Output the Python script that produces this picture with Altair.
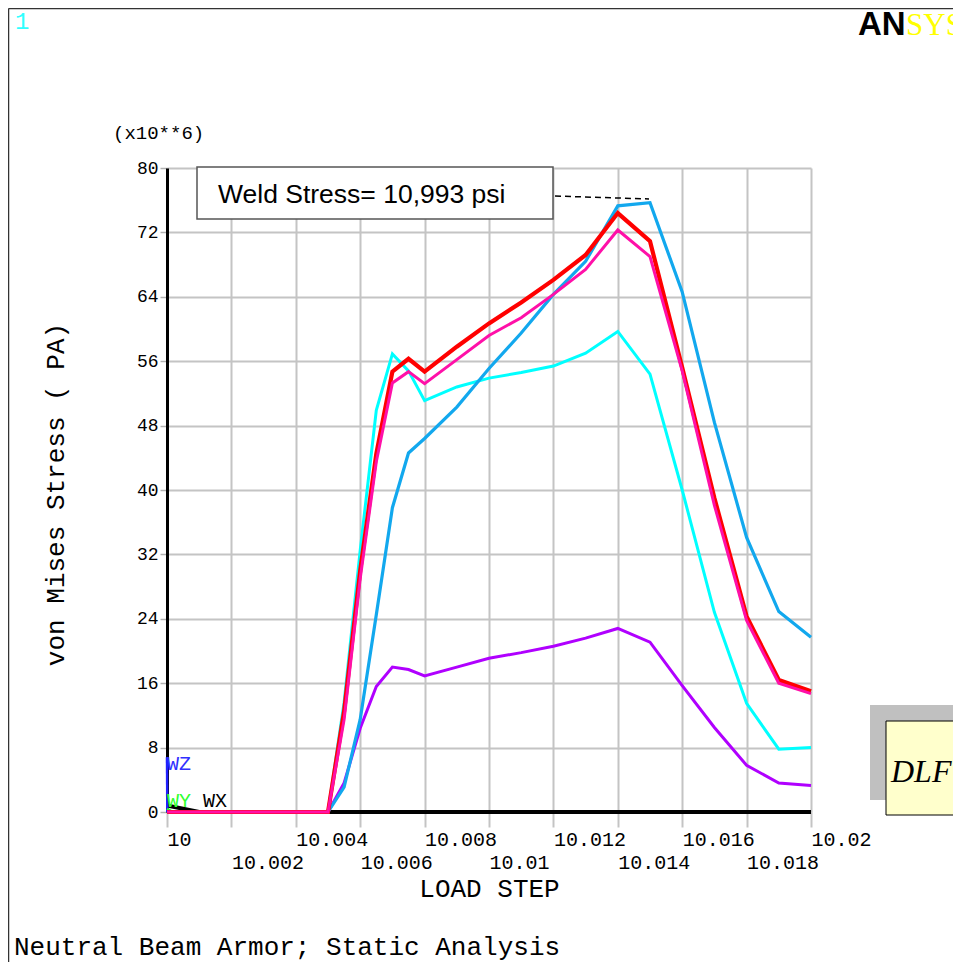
import altair as alt
import pandas as pd

# ---------------- data ----------------
load_step = [10.0, 10.001, 10.002, 10.003, 10.004, 10.005, 10.0055, 10.006, 10.0065,
             10.007, 10.0075, 10.008, 10.009, 10.010, 10.011, 10.012, 10.013, 10.014,
             10.015, 10.016, 10.017, 10.018, 10.019, 10.020]

red_vals = [0, 0, 0, 0, 0, 0, 12.5, 30.0, 44.5, 54.7, 56.3, 54.7, 57.8, 60.7, 63.3,
            66.1, 69.2, 74.4, 70.9, 55.2, 39.0, 24.3, 16.4, 15.0]
magenta_vals = [0, 0, 0, 0, 0, 0, 11.5, 29.0, 43.5, 53.3, 54.7, 53.2, 56.2, 59.2, 61.4,
                64.3, 67.4, 72.3, 69.0, 54.8, 38.1, 23.8, 16.0, 14.7]
skyblue_vals = [0, 0, 0, 0, 0, 0, 3.1, 11.5, 24.5, 37.8, 44.6, 46.4, 50.3, 55.1, 59.5,
                64.3, 68.4, 75.3, 75.7, 64.6, 48.4, 34.1, 24.9, 21.7]
cyan_vals = [0, 0, 0, 0, 0, 0, 13.6, 32.5, 49.9, 56.9, 54.8, 51.1, 52.8, 53.9, 54.6,
             55.4, 57.0, 59.7, 54.4, 40.0, 24.8, 13.5, 7.8, 8.0]
purple_vals = [0, 0, 0, 0, 0, 0, 3.6, 10.4, 15.6, 18.0, 17.7, 16.9, 18.0, 19.1, 19.8,
               20.6, 21.6, 22.8, 21.1, 15.7, 10.5, 5.8, 3.6, 3.3]
wx_vals = [0.8, 0, 0, 0, 0, 0, 0, 0, 0, 0, 0, 0, 0, 0, 0, 0, 0, 0, 0, 0, 0, 0, 0, 0]

wz_step = [10.0, 10.00001]
wz_vals = [6.8, 0.0]
wy_step = [10.0, 10.0002]
wy_vals = [0.4, 0.0]

x_ticks = [10.0, 10.002, 10.004, 10.006, 10.008, 10.010, 10.012, 10.014, 10.016, 10.018, 10.020]
y_ticks = [0, 8, 16, 24, 32, 40, 48, 56, 64, 72, 80]

series_names = ["WX", "WZ", "WY", "S5", "S4", "S3", "S1", "S2"]
series_colors = ["#000000", "#2020FF", "#30FF30", "#B000FF", "#00FFFF", "#12A8EE", "#FF0000", "#FF10A8"]
series_widths = [4, 2.5, 2.5, 3, 3, 3.2, 4.2, 3]

rows = []
for name, xs, ys in [("WX", load_step, wx_vals), ("WZ", wz_step, wz_vals), ("WY", wy_step, wy_vals),
                     ("S5", load_step, purple_vals), ("S4", load_step, cyan_vals),
                     ("S3", load_step, skyblue_vals), ("S1", load_step, red_vals),
                     ("S2", load_step, magenta_vals)]:
    for i, (a, b) in enumerate(zip(xs, ys)):
        rows.append({"series": name, "step": a, "stress": b, "i": i})
df = pd.DataFrame(rows)

MONO = "Liberation Mono"

x_enc = alt.X(
    "step:Q",
    scale=alt.Scale(domain=[10.0, 10.02], nice=False, zero=False),
    axis=alt.Axis(
        values=x_ticks, grid=True, gridColor="#C4C4C4", gridWidth=2,
        domain=False, ticks=True, tickColor="#C4C4C4", tickWidth=2, tickSize=15,
        labelExpr="round((datum.value - 10) * 1000) % 4 == 2 ? ['', format(datum.value, '.3~f')] : format(datum.value, '.3~f')",
        labelAlign="left", labelBaseline="top", labelPadding=2, labelLineHeight=23,
        labelFont=MONO, labelFontSize=20, labelColor="#000000",
        labelOverlap=False, labelFlush=False, labelBound=False,
        title="LOAD STEP", titleFont=MONO, titleFontSize=26, titleFontWeight="normal",
        titleColor="#000000", titleX=322, titleY=84, titleBaseline="alphabetic",
        titleAlign="center", titleAnchor="middle",
    ),
)
y_enc = alt.Y(
    "stress:Q",
    scale=alt.Scale(domain=[0, 80], nice=False),
    axis=alt.Axis(
        values=y_ticks, grid=True, gridColor="#C4C4C4", gridWidth=2,
        domain=True, domainColor="#000000", domainWidth=3,
        ticks=True, tickColor="#B0B0B0", tickWidth=1.5, tickSize=7,
        labelAlign="right", labelBaseline="middle", labelPadding=2,
        labelFont=MONO, labelFontSize=18, labelColor="#000000",
        labelOverlap=False, labelFlush=False, labelBound=False,
        title="von Mises Stress ( PA)", titleFont=MONO, titleFontSize=26,
        titleFontWeight="normal", titleColor="#000000", titleAngle=270,
        titleX=-104, titleY=326, titleBaseline="alphabetic", titleAlign="center",
    ),
)

layers = []
for name, col, w in zip(series_names, series_colors, series_widths):
    layers.append(
        alt.Chart(df)
        .transform_filter(alt.datum.series == name)
        .mark_line(color=col, strokeWidth=w, strokeJoin="miter", strokeCap="butt")
        .encode(x=x_enc, y=y_enc, order="i:Q")
    )

one = pd.DataFrame({"k": [0]})


def rect(x1, x2, y1, y2, **kw):
    return alt.Chart(one).mark_rect(**kw).encode(
        x=alt.value(x1), x2=alt.value(x2), y=alt.value(y1), y2=alt.value(y2))


def rule(x1, x2, y1, y2, **kw):
    return alt.Chart(one).mark_rule(**kw).encode(
        x=alt.value(x1), x2=alt.value(x2), y=alt.value(y1), y2=alt.value(y2))


def txt(s, x, y, **kw):
    return alt.Chart(pd.DataFrame({"t": [s]})).mark_text(align="left", baseline="alphabetic", **kw).encode(
        x=alt.value(x), y=alt.value(y), text="t:N")


annotations = [
    # page frame
    rule(-158.5, -158.5, -159.5, 802, color="#333333", strokeWidth=1.5),
    rule(-158.5, 794, -159.5, -159.5, color="#333333", strokeWidth=1.5),
    # weld stress call-out
    rule(388, 482, 28, 31, color="#000000", strokeWidth=1.5, strokeDash=[6, 4]),
    rect(30, 386, -1, 51, fill="#FFFFFF", stroke="#555555", strokeWidth=1.5),
    txt("Weld Stress= 10,993 psi", 51, 35, font="Liberation Sans", fontSize=26.5, color="#000000"),
    # DLF box
    rect(703, 794, 537, 632, fill="#C0C0C0"),
    rect(719, 800, 553, 647, fill="#FFFFCC", stroke="#000000", strokeWidth=1),
    txt("DLF", 724, 614, font="Liberation Serif", fontSize=32, fontStyle="italic", color="#000000"),
    # texts
    txt("1", -152, -139, font=MONO, fontSize=24, color="#30FFFF"),
    txt("AN", 691, -133, font="Liberation Sans", fontSize=33, fontWeight="bold", color="#000000"),
    txt("SYS", 739, -133, font="Liberation Serif", fontSize=31, color="#FFFF00"),
    txt("(x10**6)", -54, -29, font=MONO, fontSize=19, color="#000000"),
    txt("WZ", 0, 602, font=MONO, fontSize=20, color="#3030FF"),
    txt("WY", 0, 639, font=MONO, fontSize=20, color="#30FF30"),
    txt("WX", 36, 639, font=MONO, fontSize=20, color="#000000"),
    txt("Neutral Beam Armor; Static Analysis", -153, 787, font=MONO, fontSize=26, color="#000000"),
]

chart = (
    alt.layer(*layers, *annotations)
    .properties(
        width=644, height=644,
        padding={"left": 159, "top": 160, "right": 142, "bottom": 150},
        autosize=alt.AutoSizeParams(type="none"),
        background="#FFFFFF",
    )
    .configure_view(stroke=None)
)

chart.save("out.html", embed_options={"renderer": "svg", "actions": False})
